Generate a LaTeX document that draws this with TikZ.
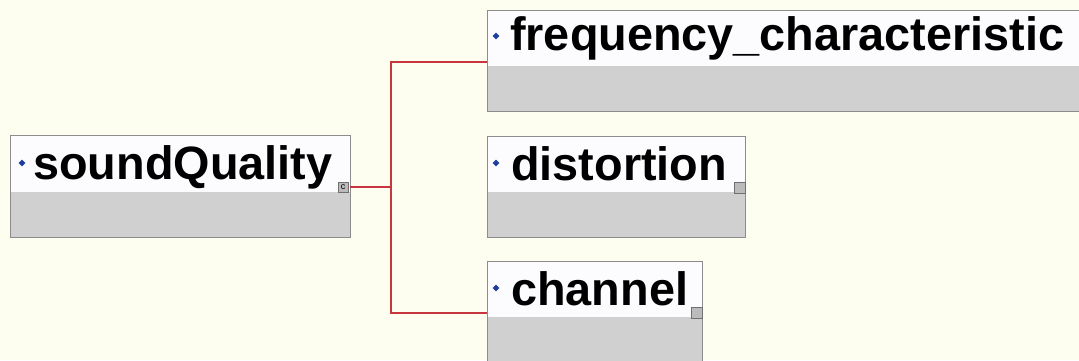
\documentclass[tikz,border=0pt]{standalone}
\usepackage{fontspec}
\setmainfont{Liberation Sans}
\definecolor{bg}{HTML}{FEFEF0}
\definecolor{topfill}{HTML}{FCFCFF}
\definecolor{grayfill}{HTML}{D0D0D0}
\definecolor{edge}{HTML}{8C8C8C}
\definecolor{wire}{HTML}{C8353F}
\definecolor{dia}{HTML}{1E3FA0}
\tikzset{
  lbl/.style={anchor=base west, inner sep=0pt, font=\fontsize{46.8}{47}\selectfont\bfseries},
  wireline/.style={draw=wire, line width=1.2pt},
  sq/.style={draw=edge!80!black, fill=grayfill!90!black, line width=0.8pt},
  bullet/.style={diamond, fill=dia, inner sep=0pt, minimum width=7pt, minimum height=7pt},
}
\usetikzlibrary{shapes.geometric}
\begin{document}
\begin{tikzpicture}[x=1pt,y=-1pt]
\clip (0,0) rectangle (1079,360);
\fill[bg] (0,0) rectangle (1079,360);
\useasboundingbox (0,0) rectangle (1079,360);

% soundQuality
\fill[topfill] (10,135) rectangle (350,192);
\fill[grayfill] (10,192) rectangle (350,237);
\draw[edge, line width=1pt] (10,135) rectangle (350,237);
\node[lbl] (sq) at (33,179) {soundQuality};
\node[bullet] (sqd) at (22,163) {};
\node[sq, minimum width=10pt, minimum height=10pt, inner sep=0pt] (sqc) at (343,187) {\fontsize{9}{9}\selectfont c};
\coordinate (sqout) at (350,187);

% frequency_characteristic
\fill[topfill] (487,10) rectangle (1090,66);
\fill[grayfill] (487,66) rectangle (1090,111);
\draw[edge, line width=1pt] (487,10) rectangle (1090,111);
\node[lbl] (fc) at (510,50) {frequency\_characteristic};
\node[bullet] (fcd) at (496,36) {};
\coordinate (fcin) at (487,62);

% distortion
\fill[topfill] (487,136) rectangle (745,192);
\fill[grayfill] (487,192) rectangle (745,237);
\draw[edge, line width=1pt] (487,136) rectangle (745,237);
\node[lbl] (ds) at (511,180) {distortion};
\node[bullet] (dsd) at (496,163) {};
\node[sq, minimum width=11pt, minimum height=11pt, inner sep=0pt] (dsq) at (740,187.5) {};

% channel
\fill[topfill] (487,261) rectangle (702,317);
\fill[grayfill] (487,317) rectangle (702,370);
\draw[edge, line width=1pt] (487,261) rectangle (702,370);
\node[lbl] (ch) at (511,305) {channel};
\node[bullet] (chd) at (496,288) {};
\node[sq, minimum width=11pt, minimum height=11pt, inner sep=0pt] (chq) at (696.5,312.5) {};
\coordinate (chin) at (487,313);

% connectors
\coordinate (bus) at (391,187);
\draw[wireline] (sqout) -- (bus);
\draw[wireline] (fcin) -- (fcin -| bus) -- (chin -| bus) -- (chin);
\end{tikzpicture}
\end{document}
